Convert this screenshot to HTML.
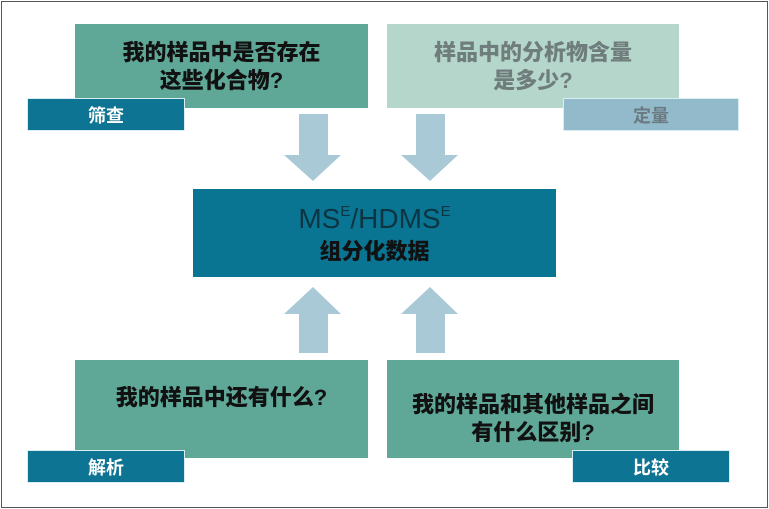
<!DOCTYPE html>
<html><head><meta charset="utf-8"><style>
body{margin:0;width:769px;height:509px;background:#fff;position:relative;overflow:hidden;font-family:"Liberation Sans","Noto Sans CJK SC",sans-serif}
.a{position:absolute}
.box{position:absolute;display:flex;align-items:center;justify-content:center;text-align:center;font-weight:900;font-size:22px;line-height:28px;color:#111;box-sizing:border-box}
.lab{position:absolute;display:flex;align-items:center;justify-content:center;font-weight:bold;font-size:18px;color:#fff;border:1px solid #d8eef2;box-sizing:border-box}
</style></head><body>
<div class="a" style="left:1px;top:1px;width:765px;height:505px;border:1px solid #555"></div>
<div class="box" style="left:75px;top:24px;width:293px;height:84px;background:#5fa797;padding-top:2px">我的样品中是否存在<br>这些化合物?</div>
<div class="box" style="left:387px;top:24px;width:292px;height:84px;background:#b5d6ca;color:#6f7d7c;padding-top:2px">样品中的分析物含量<br>是多少?</div>
<div class="lab" style="left:27px;top:98px;width:158px;height:33px;background:#0e7493">筛查</div>
<div class="lab" style="left:563px;top:98px;width:176px;height:33px;background:#92bacb;color:#6a7a80">定量</div>
<svg class="a" style="left:0;top:0" width="769" height="509">
<g fill="#a9c9d6">
<polygon points="299,114 328,114 328,155 341,155 313,181 284,155 299,155"/>
<polygon points="416,114 445,114 445,155 458,155 430,181 401,155 416,155"/>
<polygon points="299,353 328,353 328,314 341,314 313,287 284,314 299,314"/>
<polygon points="416,353 445,353 445,314 458,314 430,287 401,314 416,314"/>
</g></svg>
<div class="box" style="left:193px;top:189px;width:363px;height:88px;background:#0a7593;flex-direction:column">
<div style="font-weight:normal;font-size:28px;line-height:36px;color:#0c3544;margin-top:-6px">MS<sup style="font-size:15px;vertical-align:12px">E</sup>/HDMS<sup style="font-size:15px;vertical-align:12px">E</sup></div>
<div style="font-size:22px;line-height:30px">组分化数据</div></div>
<div class="box" style="left:75px;top:360px;width:293px;height:98px;background:#5fa797;padding-bottom:22px">我的样品中还有什么?</div>
<div class="box" style="left:387px;top:360px;width:292px;height:98px;background:#5fa797;padding-top:20px">我的样品和其他样品之间<br>有什么区别?</div>
<div class="lab" style="left:27px;top:450px;width:158px;height:33px;background:#0e7493">解析</div>
<div class="lab" style="left:572px;top:450px;width:158px;height:33px;background:#0e7493">比较</div>
</body></html>
